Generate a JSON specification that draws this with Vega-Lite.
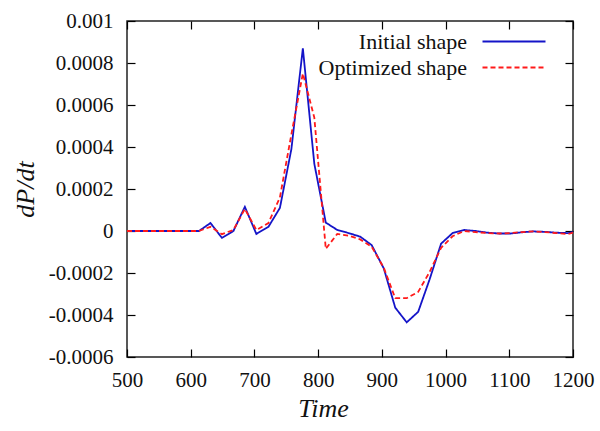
{
  "$schema": "https://vega.github.io/schema/vega-lite/v6.json",
  "width": 446,
  "height": 336,
  "autosize": "none",
  "padding": {"left": 127, "top": 21, "right": 27, "bottom": 74},
  "background": "white",
  "config": {
    "view": {"stroke": "#222222", "strokeWidth": 1.5},
    "font": "Liberation Serif",
    "legend": {
      "labelFont": "Liberation Serif",
      "labelFontSize": 22,
      "labelColor": "#111111"
    }
  },
  "data": {
    "values": [
      {"t": 500, "v": 0, "s": "Initial shape"},
      {"t": 613, "v": 0, "s": "Initial shape"},
      {"t": 631, "v": 0.000038, "s": "Initial shape"},
      {"t": 649, "v": -0.000033, "s": "Initial shape"},
      {"t": 667, "v": 0, "s": "Initial shape"},
      {"t": 685, "v": 0.000115, "s": "Initial shape"},
      {"t": 703, "v": -0.000014, "s": "Initial shape"},
      {"t": 722, "v": 0.00002, "s": "Initial shape"},
      {"t": 740, "v": 0.00011, "s": "Initial shape"},
      {"t": 758, "v": 0.00039, "s": "Initial shape"},
      {"t": 776, "v": 0.00087, "s": "Initial shape"},
      {"t": 794, "v": 0.00032, "s": "Initial shape"},
      {"t": 812, "v": 0.00004, "s": "Initial shape"},
      {"t": 830, "v": 0.000005, "s": "Initial shape"},
      {"t": 848, "v": -0.00001, "s": "Initial shape"},
      {"t": 866, "v": -0.000027, "s": "Initial shape"},
      {"t": 884, "v": -0.000067, "s": "Initial shape"},
      {"t": 903, "v": -0.000178, "s": "Initial shape"},
      {"t": 921, "v": -0.000365, "s": "Initial shape"},
      {"t": 939, "v": -0.000435, "s": "Initial shape"},
      {"t": 957, "v": -0.000385, "s": "Initial shape"},
      {"t": 975, "v": -0.00023, "s": "Initial shape"},
      {"t": 993, "v": -0.00006, "s": "Initial shape"},
      {"t": 1011, "v": -0.00001, "s": "Initial shape"},
      {"t": 1029, "v": 0.000005, "s": "Initial shape"},
      {"t": 1047, "v": 0, "s": "Initial shape"},
      {"t": 1066, "v": -0.000008, "s": "Initial shape"},
      {"t": 1084, "v": -0.000012, "s": "Initial shape"},
      {"t": 1102, "v": -0.000012, "s": "Initial shape"},
      {"t": 1120, "v": -0.000006, "s": "Initial shape"},
      {"t": 1138, "v": -0.000002, "s": "Initial shape"},
      {"t": 1156, "v": -0.000004, "s": "Initial shape"},
      {"t": 1174, "v": -0.000008, "s": "Initial shape"},
      {"t": 1192, "v": -0.00001, "s": "Initial shape"},
      {"t": 1200, "v": -0.000005, "s": "Initial shape"},
      {"t": 500, "v": 0, "s": "Optimized shape"},
      {"t": 613, "v": 0, "s": "Optimized shape"},
      {"t": 631, "v": 0.00002, "s": "Optimized shape"},
      {"t": 649, "v": -0.000015, "s": "Optimized shape"},
      {"t": 667, "v": 0.000005, "s": "Optimized shape"},
      {"t": 685, "v": 0.000105, "s": "Optimized shape"},
      {"t": 703, "v": 0.000005, "s": "Optimized shape"},
      {"t": 722, "v": 0.000038, "s": "Optimized shape"},
      {"t": 740, "v": 0.00016, "s": "Optimized shape"},
      {"t": 758, "v": 0.00046, "s": "Optimized shape"},
      {"t": 776, "v": 0.00075, "s": "Optimized shape"},
      {"t": 794, "v": 0.00054, "s": "Optimized shape"},
      {"t": 812, "v": -0.000085, "s": "Optimized shape"},
      {"t": 830, "v": -0.000014, "s": "Optimized shape"},
      {"t": 848, "v": -0.000022, "s": "Optimized shape"},
      {"t": 866, "v": -0.00004, "s": "Optimized shape"},
      {"t": 884, "v": -0.000075, "s": "Optimized shape"},
      {"t": 903, "v": -0.000175, "s": "Optimized shape"},
      {"t": 921, "v": -0.00032, "s": "Optimized shape"},
      {"t": 939, "v": -0.00032, "s": "Optimized shape"},
      {"t": 957, "v": -0.00029, "s": "Optimized shape"},
      {"t": 975, "v": -0.000195, "s": "Optimized shape"},
      {"t": 993, "v": -0.00008, "s": "Optimized shape"},
      {"t": 1011, "v": -0.000025, "s": "Optimized shape"},
      {"t": 1029, "v": 0, "s": "Optimized shape"},
      {"t": 1047, "v": -0.000005, "s": "Optimized shape"},
      {"t": 1066, "v": -0.00001, "s": "Optimized shape"},
      {"t": 1084, "v": -0.000012, "s": "Optimized shape"},
      {"t": 1102, "v": -0.00001, "s": "Optimized shape"},
      {"t": 1120, "v": -0.000005, "s": "Optimized shape"},
      {"t": 1138, "v": -0.000002, "s": "Optimized shape"},
      {"t": 1156, "v": -0.000005, "s": "Optimized shape"},
      {"t": 1174, "v": -0.00001, "s": "Optimized shape"},
      {"t": 1192, "v": -0.000015, "s": "Optimized shape"},
      {"t": 1200, "v": -0.000008, "s": "Optimized shape"}
    ]
  },
  "resolve": {"axis": {"x": "independent", "y": "independent"}},
  "layer": [
    {
      "mark": {"type": "line", "strokeOpacity": 0},
      "encoding": {
        "x": {"field": "t", "type": "quantitative", "scale": {"domain": [500, 1200], "nice": false, "zero": false},
              "axis": {"orient": "top", "offset": -8, "tickMinStep": 100, "tickSize": 8, "tickColor": "black", "tickWidth": 1.2,
                       "domain": false, "grid": false, "labels": false, "title": null}},
        "y": {"field": "v", "type": "quantitative", "scale": {"domain": [-0.0006, 0.001], "nice": false, "zero": false},
              "axis": {"orient": "right", "offset": -8, "tickSize": 8, "tickColor": "black", "tickWidth": 1.2,
                       "domain": false, "grid": false, "labels": false, "title": null}},
        "detail": {"field": "s"}
      }
    },
    {
      "mark": {"type": "line", "strokeWidth": 1.8},
      "encoding": {
        "x": {"field": "t", "type": "quantitative", "scale": {"domain": [500, 1200], "nice": false, "zero": false},
              "axis": {"orient": "bottom", "offset": -8, "tickMinStep": 100, "tickSize": 8, "tickColor": "black", "tickWidth": 1.2,
                       "domain": false, "grid": false, "format": "d", "labelFlush": false, "labelOverlap": false,
                       "labelPadding": 12, "labelFont": "Liberation Serif", "labelFontSize": 21, "labelColor": "#111111",
                       "title": "Time", "titleFont": "Liberation Serif", "titleFontSize": 26, "titleFontStyle": "italic", "titleFontWeight": "normal", "titleColor": "#111111",
                       "titleX": 196, "titleY": 59, "titleBaseline": "middle"}},
        "y": {"field": "v", "type": "quantitative", "scale": {"domain": [-0.0006, 0.001], "nice": false, "zero": false},
              "axis": {"orient": "left", "offset": -8, "tickSize": 8, "tickColor": "black", "tickWidth": 1.2,
                       "domain": false, "grid": false, "labelOverlap": false, "labelFlush": false,
                       "labelPadding": 14, "labelFont": "Liberation Serif", "labelFontSize": 21, "labelColor": "#111111",
                       "labelExpr": "replace(format(datum.value, '~g'), '−', '-')",
                       "title": "dP/dt", "titleFont": "Liberation Serif", "titleFontSize": 26, "titleFontStyle": "italic", "titleFontWeight": "normal", "titleColor": "#111111",
                       "titleX": -110, "titleY": 168, "titleAngle": -90, "titleBaseline": "middle", "titleAlign": "center"}},
        "color": {"field": "s", "type": "nominal", "title": null,
                  "scale": {"domain": ["Initial shape", "Optimized shape"], "range": ["#1414c8", "#ff1a1a"]},
                  "legend": {"orient": "none", "legendX": 344, "legendY": 9, "padding": 0, "rowPadding": 3,
                             "symbolType": "M0,0H6", "symbolSize": 441, "symbolStrokeWidth": 1.8,
                             "labelAlign": "right", "labelOffset": -27, "labelLimit": 300}},
        "strokeDash": {"field": "s", "type": "nominal", "title": null,
                       "scale": {"domain": ["Initial shape", "Optimized shape"], "range": [[1, 0], [5, 3]]}}
      }
    }
  ]
}
